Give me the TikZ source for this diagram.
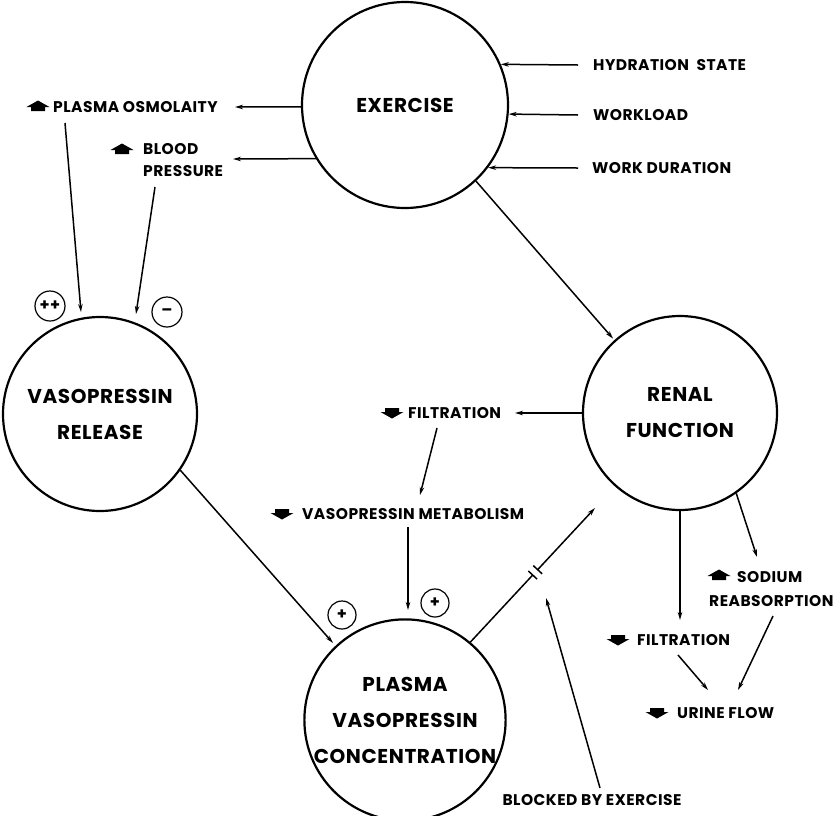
\documentclass[tikz,border=0pt]{standalone}
\usepackage{fontspec}
\setmainfont{Poppins}[LetterSpace=3]
\usetikzlibrary{arrows.meta,calc}
\begin{document}
\begin{tikzpicture}[x=1pt,y=-1pt,
  bubble/.style={circle,draw,line width=2.2pt,inner sep=0pt,align=center,font=\fontsize{20}{36}\selectfont\bfseries},
  lab/.style={inner sep=0pt,anchor=west,align=left,font=\fontsize{15.5}{22}\selectfont\bfseries},
  conn/.style={-{Stealth[length=8pt,width=4.5pt]},line width=1.5pt},
  plain/.style={line width=1.5pt},
  sign/.style={circle,draw,line width=1.2pt,minimum size=30pt,inner sep=0pt,font=\fontsize{16}{16}\selectfont\bfseries},
  upsym/.pic={\fill (0,-5.5)--(11.5,1)--(7,1)--(7,5)--(-7,5)--(-7,1)--(-11.5,1)--cycle;},
  downsym/.pic={\fill (0,5.5)--(11.5,-1)--(7,-1)--(7,-5)--(-7,-5)--(-7,-1)--(-11.5,-1)--cycle;}
]
\useasboundingbox (0,0) rectangle (836,815);
\fill[white] (0,0) rectangle (836,815);

% main circles
\node[bubble,minimum size=206pt] (ex) at (405,105) {EXERCISE};
\node[bubble,minimum size=194pt] (rel) at (100,414) {VASOPRESSIN\\RELEASE};
\node[bubble,minimum size=194pt] (ren) at (680,413) {RENAL\\FUNCTION};
\node[bubble,minimum size=198pt] (pl) at (405,720) {PLASMA\\VASOPRESSIN\\CONCENTRATION};

% labels
\node[lab] (hyd) at (593,65) {HYDRATION\ \ STATE};
\node[lab] (wl) at (593,115) {WORKLOAD};
\node[lab] (wd) at (592,168) {WORK DURATION};
\node[lab] (posm) at (53,107) {PLASMA OSMOLAITY};
\node[lab] (bp1) at (143,149) {BLOOD};
\node[lab] (bp2) at (143,171) {PRESSURE};
\node[lab] (filt1) at (408,413) {FILTRATION};
\node[lab] (meta) at (302,514) {VASOPRESSIN METABOLISM};
\node[lab] (filt2) at (637,640) {FILTRATION};
\node[lab] (sod1) at (737,577) {SODIUM};
\node[lab] (sod2) at (709,601) {REABSORPTION};
\node[lab] (urine) at (677,713) {URINE FLOW};
\node[lab,anchor=center] (blk) at (592,800) {BLOCKED BY EXERCISE};

% up / down symbols
\pic at (38,106) {upsym};
\pic at (122,149) {upsym};
\pic at (392,413) {downsym};
\pic at (282,514) {downsym};
\pic at (618,640) {downsym};
\pic at (719,575) {upsym};
\pic at (657,713) {downsym};

% signs
\node[sign] (pp) at (50,306) {++};
\node[sign] (mi) at (167,312) {–};
\node[sign,minimum size=28pt] (p1) at (342,615) {+};
\node[sign,minimum size=28pt] (p2) at (435,603) {+};

% free ends
\coordinate (hydS) at (578,65);
\coordinate (wlS) at (578,115);
\coordinate (wdS) at (578,168);
\coordinate (posmT) at (235,107);
\coordinate (bpT) at (233,159);
\coordinate (o1) at (65,123);
\coordinate (o2) at (81,312);
\coordinate (b1) at (155,187);
\coordinate (b2) at (136,314);
\coordinate (f1T) at (515,413);
\coordinate (f1a) at (437,428);
\coordinate (f1b) at (420,495);
\coordinate (m1) at (408,527);
\coordinate (m2) at (408,610);
\coordinate (relT) at (333,643);
\coordinate (plT) at (595,508);
\coordinate (bkS) at (600,788);
\coordinate (bkT) at (546,598);
\coordinate (f2T) at (680,620);
\coordinate (sodT) at (757,557);
\coordinate (f2a) at (678,655);
\coordinate (f2b) at (708,690);
\coordinate (ra) at (773,616);
\coordinate (rb) at (738,690);

% connectors
\draw[conn] (hydS) -- (ex.23);
\draw[conn] (wlS) -- (ex.-5.6);
\draw[conn] (wdS) -- (ex.-37.7);
\draw[conn] (ex.181.1) -- (posmT);
\draw[conn] (ex.211.6) -- (bpT);
\draw[conn] (o1) -- (o2);
\draw[conn] (b1) -- (b2);
\draw[conn,shorten >=2pt] (ex.-47) -- (ren.132);
\draw[conn] (ren.180) -- (f1T);
\draw[conn] (f1a) -- (f1b);
\draw[conn] (m1) -- (m2);
\draw[conn] (rel.-35) -- (relT);
\draw[plain] (pl.50) -- ($(pl.50)!0.50!(plT)$) coordinate (g1);
\draw[conn] ($(pl.50)!0.54!(plT)$) coordinate (g2) -- (plT);
\draw[plain] ($(g1)!6pt!90:(plT)$) -- ($(g1)!6pt!-90:(plT)$);
\draw[plain] ($(g2)!6pt!90:(plT)$) -- ($(g2)!6pt!-90:(plT)$);
\draw[conn] (bkS) -- (bkT);
\draw[conn] (ren.-90) -- (f2T);
\draw[conn] (ren.-55) -- (sodT);
\draw[conn] (f2a) -- (f2b);
\draw[conn] (ra) -- (rb);
\end{tikzpicture}
\end{document}
